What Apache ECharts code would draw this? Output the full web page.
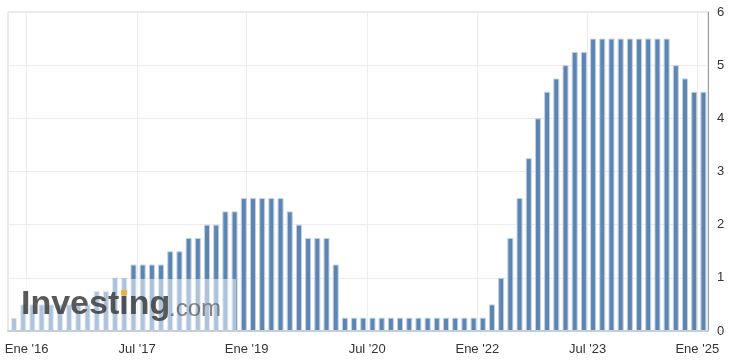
<!DOCTYPE html>
<html><head><meta charset="utf-8">
<script src="https://cdn.jsdelivr.net/npm/echarts@6/dist/echarts.min.js"></script>
<style>html,body{margin:0;padding:0;background:#fff}#c{width:731px;height:362px}</style>
</head><body><div id="c"></div>
<script>
// Fed rate decisions (upper bound, %), one bar per meeting
const meetingDates = [
  '2015-10-28','2015-12-16',
  '2016-01-27','2016-03-16','2016-04-27','2016-06-15','2016-07-27','2016-09-21','2016-11-02','2016-12-14',
  '2017-02-01','2017-03-15','2017-05-03','2017-06-14','2017-07-26','2017-09-20','2017-11-01','2017-12-13',
  '2018-01-31','2018-03-21','2018-05-02','2018-06-13','2018-08-01','2018-09-26','2018-11-08','2018-12-19',
  '2019-01-30','2019-03-20','2019-05-01','2019-06-19','2019-07-31','2019-09-18','2019-10-30','2019-12-11',
  '2020-01-29','2020-03-03','2020-03-15','2020-04-29','2020-06-10','2020-07-29','2020-09-16','2020-11-05','2020-12-16',
  '2021-01-27','2021-03-17','2021-04-28','2021-06-16','2021-07-28','2021-09-22','2021-11-03','2021-12-15',
  '2022-01-26','2022-03-16','2022-05-04','2022-06-15','2022-07-27','2022-09-21','2022-11-02','2022-12-14',
  '2023-02-01','2023-03-22','2023-05-03','2023-06-14','2023-07-26','2023-09-20','2023-11-01','2023-12-13',
  '2024-01-31','2024-03-20','2024-05-01','2024-06-12','2024-07-31','2024-09-18','2024-11-07','2024-12-18',
  '2025-01-29'
];
const rates = [
  0.25, 0.5,
  0.5, 0.5, 0.5, 0.5, 0.5, 0.5, 0.5, 0.75,
  0.75, 1.0, 1.0, 1.25, 1.25, 1.25, 1.25, 1.5,
  1.5, 1.75, 1.75, 2.0, 2.0, 2.25, 2.25, 2.5,
  2.5, 2.5, 2.5, 2.5, 2.25, 2.0, 1.75, 1.75,
  1.75, 1.25, 0.25, 0.25, 0.25, 0.25, 0.25, 0.25, 0.25,
  0.25, 0.25, 0.25, 0.25, 0.25, 0.25, 0.25, 0.25,
  0.25, 0.5, 1.0, 1.75, 2.5, 3.25, 4.0, 4.5,
  4.75, 5.0, 5.25, 5.25, 5.5, 5.5, 5.5, 5.5,
  5.5, 5.5, 5.5, 5.5, 5.5, 5.0, 4.75, 4.5,
  4.5
];
const tickDates = ['2016-01-01','2017-07-01','2019-01-01','2020-07-01','2022-01-01','2023-07-01','2025-01-01'];
const tickLabels = ["Ene '16","Jul '17","Ene '19","Jul '20","Ene '22","Jul '23","Ene '25"];
const yMin = 0, yMax = 6, yStep = 1;

const t = s => new Date(s + 'T00:00:00Z').getTime();
const mt = meetingDates.map(t);
function datePos(s) {
  const d = t(s);
  for (let i = 0; i < mt.length - 1; i++) {
    if (d >= mt[i] && d < mt[i + 1]) return i + (d - mt[i]) / (mt[i + 1] - mt[i]);
  }
  return mt.length - 1;
}
const tickPos = tickDates.map(datePos);
const barData = rates.map((v, i) => [i, v]);

const chart = echarts.init(document.getElementById('c'), null, {renderer: 'canvas'});
chart.setOption({
  animation: false,
  backgroundColor: '#fff',
  grid: {left: 8, right: 23, top: 12, bottom: 31, show: true, borderColor: '#d4d4d4', borderWidth: 1},
  xAxis: {
    type: 'value', min: -0.65, max: rates.length - 0.5,
    axisLine: {show: true, onZero: false, lineStyle: {color: '#c5cfdb', width: 2}},
    axisTick: {show: false, customValues: tickPos},
    axisLabel: {
      customValues: tickPos, color: '#333', fontFamily: 'Arial, Liberation Sans', fontSize: 13, margin: 12,
      formatter: v => { let b = 0; tickPos.forEach((p, i) => { if (Math.abs(p - v) < Math.abs(tickPos[b] - v)) b = i; }); return tickLabels[b]; }
    },
    splitLine: {show: true, lineStyle: {color: '#ececec', width: 1}}
  },
  yAxis: {
    type: 'value', position: 'right', min: yMin, max: yMax, interval: yStep,
    axisLine: {show: true, onZero: false, lineStyle: {color: '#9a9a9a', width: 1}},
    axisTick: {show: false},
    axisLabel: {color: '#333', fontFamily: 'Arial, Liberation Sans', fontSize: 13, margin: 9},
    splitLine: {lineStyle: {color: '#ececec', width: 1}}
  },
  series: [{
    type: 'bar', data: barData, barWidth: 6,
    itemStyle: {color: '#5d85b2', borderColor: '#c3d1e2', borderWidth: 1}
  }],
  graphic: [
    {type: 'rect', shape: {x: 9, y: 279, width: 227, height: 51}, style: {fill: 'rgba(255,255,255,0.5)'}, z: 100},
    {type: 'text', x: 21, y: 322, style: {text: 'Investing', font: 'bold 34px Arial, Liberation Sans', fill: 'rgba(60,60,60,0.85)', textVerticalAlign: 'bottom'}, z: 101},
    {type: 'text', x: 169, y: 321, style: {text: '.com', font: '24px Arial, Liberation Sans', fill: 'rgba(100,100,100,0.8)', textVerticalAlign: 'bottom'}, z: 101},
    {type: 'rect', shape: {x: 121, y: 290, width: 6, height: 5}, style: {fill: '#f2b134'}, z: 102}
  ]
});
</script></body></html>
